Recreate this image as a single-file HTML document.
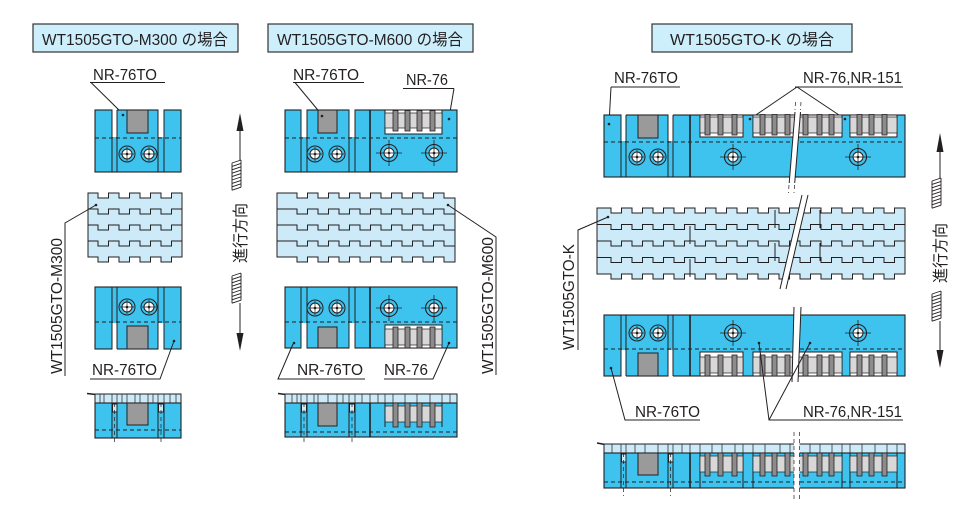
<!DOCTYPE html>
<html><head><meta charset="utf-8">
<style>
html,body{margin:0;padding:0;background:#fff;}
svg{display:block;}
</style></head>
<body>
<svg width="980" height="521" viewBox="0 0 980 521" xmlns="http://www.w3.org/2000/svg">
<style>
.b{fill:#3ec3ef;stroke:#231f20;stroke-width:1.1}
.lb{fill:#cdeaf8;stroke:#231f20;stroke-width:1}
.g{fill:#9a9a9a;stroke:#231f20;stroke-width:1}
.lg{fill:#d8d8d8;stroke:#231f20;stroke-width:0.7}
.w{fill:#fff;stroke:none}
.ln{fill:none;stroke:#231f20;stroke-width:1}
.tk{fill:none;stroke:#231f20;stroke-width:1.6}
.th{fill:none;stroke:#231f20;stroke-width:0.7}
.ds{fill:none;stroke:#231f20;stroke-width:1;stroke-dasharray:4 3}
.dt{fill:none;stroke:#231f20;stroke-width:0.7;stroke-dasharray:4 3}
.bar{fill:#8c8c8c;stroke:#231f20;stroke-width:0.8}
.bt{fill:#cdeaf8;stroke:#231f20;stroke-width:1}
text{font-family:"Liberation Sans","Noto Sans CJK JP",sans-serif;fill:#231f20;font-size:16px}
</style>
<defs>
<g id="sc"><circle r="8" fill="#3ec3ef" stroke="#231f20" stroke-width="1"/><circle r="5" fill="#fff" stroke="#231f20" stroke-width="1"/><path d="M-7,0H7M0,-7V7" stroke="#231f20" stroke-width="0.7"/><circle r="1.3" fill="#231f20"/></g>
<g id="bc"><circle r="8.5" fill="#3ec3ef" stroke="#231f20" stroke-width="1.1"/><circle r="5" fill="#fff" stroke="#231f20" stroke-width="1"/><path d="M-13,0H13M0,-13V13" stroke="#231f20" stroke-width="0.8"/><circle r="1.3" fill="#231f20"/></g>
<g id="hatch"><path d="M0,3V30.2M9,0V27.2M0,3L9,0M0,6.4L9,3.4M0,9.8L9,6.8M0,13.2L9,10.2M0,16.6L9,13.6M0,20L9,17M0,23.4L9,20.4M0,26.8L9,23.8M0,30.2L9,27.2" fill="none" stroke="#231f20" stroke-width="0.9"/></g>
</defs>

<!-- ================= TITLES ================= -->
<rect x="33" y="24" width="205" height="28" fill="#cdeefb" stroke="#333" stroke-width="1.2"/>
<text x="42" y="45" textLength="186" lengthAdjust="spacingAndGlyphs">WT1505GTO-M300 の場合</text>
<rect x="268" y="24" width="205" height="28" fill="#cdeefb" stroke="#333" stroke-width="1.2"/>
<text x="277" y="45" textLength="186" lengthAdjust="spacingAndGlyphs">WT1505GTO-M600 の場合</text>
<rect x="652" y="24" width="200" height="28" fill="#cdeefb" stroke="#333" stroke-width="1.2"/>
<text x="670" y="45" textLength="164" lengthAdjust="spacingAndGlyphs">WT1505GTO-K の場合</text>

<!-- ================= LEFT PANEL ================= -->
<text x="93" y="80" textLength="64" lengthAdjust="spacingAndGlyphs">NR-76TO</text>
<path class="ln" d="M90,82.5H165M91,82.5L123,114"/>
<rect class="b" x="95" y="110" width="86" height="62"/>
<rect class="w" x="112.5" y="109" width="4.5" height="28"/>
<rect class="w" x="158.5" y="109" width="5" height="28"/>
<path class="ln" d="M112,110V172M117,110V172M158,110V172M164,110V172"/>
<line class="ds" x1="95" y1="138" x2="181" y2="138"/>
<rect class="g" x="127" y="110" width="21" height="23"/>
<use href="#sc" x="127" y="154"/><use href="#sc" x="149" y="154"/>
<circle cx="123" cy="115" r="1.3" fill="#231f20"/>

<path class="bt" d="M88,193 h10 v5h10.5v-5h10.5 v5h10.5v-5h10.5 v5h10.5v-5h10.5 v5h10.5v-5h10.5 V257 h-10.5 v5h-10.5v-5h-10.5 v5h-10.5v-5h-10.5 v5h-10.5v-5h-10.5 v5h-10.5v-5h-10 Z"/>
<path class="ln" d="M88,209 h10 v5h10.5v-5h10.5 v5h10.5v-5h10.5 v5h10.5v-5h10.5 v5h10.5v-5h10.5 M88,225 h10 v5h10.5v-5h10.5 v5h10.5v-5h10.5 v5h10.5v-5h10.5 v5h10.5v-5h10.5 M88,241 h10 v5h10.5v-5h10.5 v5h10.5v-5h10.5 v5h10.5v-5h10.5 v5h10.5v-5h10.5"/>
<circle cx="96" cy="205" r="1.3" fill="#231f20"/>
<path class="ln" d="M96,205L65,223V376"/>
<text transform="translate(62,374) rotate(-90)" textLength="136" lengthAdjust="spacingAndGlyphs">WT1505GTO-M300</text>

<rect class="b" x="95" y="287" width="86" height="62"/>
<rect class="w" x="112.5" y="323" width="4.5" height="27"/>
<rect class="w" x="158.5" y="323" width="5" height="27"/>
<path class="ln" d="M112,287V349M117,287V349M158,287V349M164,287V349"/>
<line class="ds" x1="95" y1="322" x2="181" y2="322"/>
<rect class="g" x="127" y="326" width="21" height="23"/>
<use href="#sc" x="127" y="307"/><use href="#sc" x="149" y="307"/>
<circle cx="174" cy="341" r="1.3" fill="#231f20"/>
<path class="ln" d="M174,341L160,379H90"/>
<text x="92" y="375" textLength="65" lengthAdjust="spacingAndGlyphs">NR-76TO</text>

<path class="tk" d="M87,393.5L96,394.5"/>
<rect class="lb" x="95" y="394" width="86" height="9"/>
<path class="th" d="M100,394v9M104,394v9M112,394v9M117,394v9M122,394v9M127,394v9M135,394v9M140,394v9M148,394v9M153,394v9M158,394v9M164,394v9M170,394v9M176,394v9"/>
<rect class="b" x="95" y="403" width="86" height="35"/>
<path class="ln" d="M112,403V438M117,403V438M158,403V438M164,403V438"/>
<rect class="lb" x="112.5" y="404" width="4.5" height="8"/>
<rect class="lb" x="158.5" y="404" width="5" height="8"/>
<rect class="g" x="127" y="403" width="21" height="22"/>
<line class="ds" x1="95" y1="430" x2="181" y2="430"/>
<path class="dt" d="M114.5,403V442M161,403V442"/>

<polygon points="240,113 236.5,131 243.5,131" fill="#231f20"/>
<path class="ln" d="M240,128V160M240,303V335"/>
<use href="#hatch" x="232" y="160"/>
<use href="#hatch" x="232" y="273"/>
<polygon points="240,351 236.5,333 243.5,333" fill="#231f20"/>
<text transform="translate(246,263) rotate(-90)" font-size="15" textLength="60" lengthAdjust="spacingAndGlyphs">進行方向</text>

<!-- ================= MIDDLE PANEL ================= -->
<text x="293" y="80" textLength="66" lengthAdjust="spacingAndGlyphs">NR-76TO</text>
<path class="ln" d="M293,82.5H364M295,82.5L322,115"/>
<text x="406" y="85" textLength="42" lengthAdjust="spacingAndGlyphs">NR-76</text>
<path class="ln" d="M403,88.5H454M454,88.5L449,118"/>

<rect class="b" x="285" y="110" width="172" height="62"/>
<rect class="w" x="301.5" y="109" width="5" height="28"/>
<rect class="w" x="349.5" y="109" width="5" height="28"/>
<path class="ln" d="M301,110V172M307,110V172M349,110V172M355,110V172"/>
<path class="tk" d="M370,110V172"/>
<line class="ds" x1="285" y1="138" x2="457" y2="138"/>
<rect class="g" x="318" y="110" width="19" height="23"/>
<use href="#sc" x="315" y="154"/><use href="#sc" x="337" y="154"/>
<rect x="385" y="110" width="57" height="24" fill="#fff" stroke="#231f20" stroke-width="1"/>
<rect class="lg" x="385" y="113" width="57" height="15"/>
<rect class="bar" x="393" y="110.5" width="5" height="20.5"/>
<rect class="bar" x="405" y="110.5" width="5" height="20.5"/>
<rect class="bar" x="417" y="110.5" width="5" height="20.5"/>
<rect class="bar" x="430" y="110.5" width="5" height="20.5"/>
<use href="#bc" x="389" y="153"/><use href="#bc" x="434" y="153"/>
<circle cx="322" cy="116" r="1.3" fill="#231f20"/>
<circle cx="449" cy="119" r="1.3" fill="#231f20"/>

<path class="bt" d="M277,193 h20 v5h10.5v-5h10.5 v5h10.5v-5h10.5 v5h10.5v-5h10.5 v5h10.5v-5h10.5 v5h10.5v-5h10.5 v5h10.5v-5h10.5 v5h10.5v-5h10.5 v5h11 V262 h-11 v-5h-10.5v5h-10.5 v-5h-10.5v5h-10.5 v-5h-10.5v5h-10.5 v-5h-10.5v5h-10.5 v-5h-10.5v5h-10.5 v-5h-10.5v5h-10.5 v-5h-10.5v5h-10.5 v-5h-20 Z"/>
<path class="ln" d="M277,209 h20 v5h10.5v-5h10.5 v5h10.5v-5h10.5 v5h10.5v-5h10.5 v5h10.5v-5h10.5 v5h10.5v-5h10.5 v5h10.5v-5h10.5 v5h10.5v-5h10.5 v5h11 M277,225 h20 v5h10.5v-5h10.5 v5h10.5v-5h10.5 v5h10.5v-5h10.5 v5h10.5v-5h10.5 v5h10.5v-5h10.5 v5h10.5v-5h10.5 v5h10.5v-5h10.5 v5h11 M277,241 h20 v5h10.5v-5h10.5 v5h10.5v-5h10.5 v5h10.5v-5h10.5 v5h10.5v-5h10.5 v5h10.5v-5h10.5 v5h10.5v-5h10.5 v5h10.5v-5h10.5 v5h11"/>
<circle cx="448" cy="205" r="1.3" fill="#231f20"/>
<path class="ln" d="M448,205L496,237V375"/>
<text transform="translate(493,374) rotate(-90)" textLength="137" lengthAdjust="spacingAndGlyphs">WT1505GTO-M600</text>

<rect class="b" x="285" y="287" width="172" height="61"/>
<rect class="w" x="301.5" y="323" width="5" height="26"/>
<rect class="w" x="349.5" y="323" width="5" height="26"/>
<path class="ln" d="M301,287V348M307,287V348M349,287V348M355,287V348"/>
<path class="tk" d="M370,287V348"/>
<line class="ds" x1="285" y1="322" x2="457" y2="322"/>
<rect class="g" x="318" y="327" width="19" height="21"/>
<use href="#sc" x="315" y="308"/><use href="#sc" x="337" y="308"/>
<rect x="385" y="325" width="57" height="23" fill="#fff" stroke="#231f20" stroke-width="1"/>
<rect class="lg" x="385" y="329" width="57" height="16"/>
<rect class="bar" x="393" y="327" width="5" height="21"/>
<rect class="bar" x="405" y="327" width="5" height="21"/>
<rect class="bar" x="417" y="327" width="5" height="21"/>
<rect class="bar" x="430" y="327" width="5" height="21"/>
<use href="#bc" x="389" y="308"/><use href="#bc" x="434" y="308"/>
<circle cx="294" cy="343" r="1.3" fill="#231f20"/>
<circle cx="449" cy="343" r="1.3" fill="#231f20"/>
<path class="ln" d="M293,344L278,379H365M449,343L433,379H384"/>
<text x="297" y="375" textLength="66" lengthAdjust="spacingAndGlyphs">NR-76TO</text>
<text x="384" y="375" textLength="44" lengthAdjust="spacingAndGlyphs">NR-76</text>

<path class="tk" d="M278,393.5L286,394.5"/>
<rect class="lb" x="285" y="394" width="172" height="9"/>
<path class="th" d="M292,394v9M297,394v9M301,394v9M307,394v9M314,394v9M318,394v9M328,394v9M337,394v9M343,394v9M349,394v9M355,394v9M362,394v9M370,394v9M378,394v9M385,394v9M393,394v9M405,394v9M417,394v9M430,394v9M442,394v9M450,394v9"/>
<rect class="b" x="285" y="403" width="172" height="34"/>
<path class="ln" d="M301,403V437M307,403V437M349,403V437M355,403V437"/>
<path class="tk" d="M370,403V437"/>
<rect class="lb" x="301.5" y="404" width="5" height="8"/>
<rect class="lb" x="349.5" y="404" width="5" height="8"/>
<rect class="g" x="318" y="403" width="19" height="23"/>
<rect class="lg" x="385" y="406" width="57" height="16"/>
<path class="ln" d="M385,403V427M442,403V427"/>
<rect class="bar" x="393" y="403" width="5" height="24"/>
<rect class="bar" x="405" y="403" width="5" height="24"/>
<rect class="bar" x="417" y="403" width="5" height="24"/>
<rect class="bar" x="430" y="403" width="5" height="24"/>
<line class="ds" x1="285" y1="432" x2="457" y2="432"/>
<path class="dt" d="M304,403V442M352,403V442"/>

<!-- ================= RIGHT PANEL ================= -->
<text x="614" y="83" textLength="64" lengthAdjust="spacingAndGlyphs">NR-76TO</text>
<path class="ln" d="M611,87H680M611,87L609,124"/>
<text x="803" y="83" textLength="99" lengthAdjust="spacingAndGlyphs">NR-76,NR-151</text>
<path class="ln" d="M795,87H903M797,87L750,119M797,87L845,119"/>

<rect class="b" x="604" y="115" width="301" height="62"/>
<rect class="w" x="621.5" y="114" width="4.5" height="27"/>
<rect class="w" x="668.5" y="114" width="4.5" height="27"/>
<path class="ln" d="M621,115V177M626,115V177M668,115V177M673,115V177"/>
<path class="tk" d="M690,115V177"/>
<line class="ds" x1="604" y1="142" x2="905" y2="142"/>
<rect class="g" x="638" y="115" width="20" height="23"/>
<use href="#sc" x="637" y="157"/><use href="#sc" x="658" y="157"/>
<rect x="700" y="115" width="43" height="22" fill="#fff" stroke="#231f20" stroke-width="1"/>
<rect x="753" y="115" width="89" height="22" fill="#fff" stroke="#231f20" stroke-width="1"/>
<rect x="850" y="115" width="47" height="22" fill="#fff" stroke="#231f20" stroke-width="1"/>
<rect class="lg" x="700" y="117" width="43" height="16"/>
<rect class="lg" x="753" y="117" width="89" height="16"/>
<rect class="lg" x="850" y="117" width="47" height="16"/>
<g>
<rect class="bar" x="705" y="114.5" width="5" height="20.5"/>
<rect class="bar" x="718" y="114.5" width="5" height="20.5"/>
<rect class="bar" x="732" y="114.5" width="5" height="20.5"/>
<rect class="bar" x="760" y="114.5" width="5" height="20.5"/>
<rect class="bar" x="772" y="114.5" width="5" height="20.5"/>
<rect class="bar" x="785" y="114.5" width="5" height="20.5"/>
<rect class="bar" x="803" y="114.5" width="5" height="20.5"/>
<rect class="bar" x="817" y="114.5" width="5" height="20.5"/>
<rect class="bar" x="829" y="114.5" width="5" height="20.5"/>
<rect class="bar" x="857" y="114.5" width="5" height="20.5"/>
<rect class="bar" x="869" y="114.5" width="5" height="20.5"/>
<rect class="bar" x="882" y="114.5" width="5" height="20.5"/>
</g>
<use href="#bc" x="733" y="157"/><use href="#bc" x="858" y="157"/>
<polygon points="795,110 800.5,110 794.5,185 789,185" fill="#fff"/>
<path class="ln" d="M795,112L789.2,183M800.5,112L794.7,183"/>
<path class="dt" d="M795.5,102L795,110M801,102L800.5,110M789,185L788.5,193M794.5,185L794,193"/>
<circle cx="609" cy="124" r="1.3" fill="#231f20"/>
<circle cx="750" cy="119" r="1.3" fill="#231f20"/>
<circle cx="845" cy="119" r="1.3" fill="#231f20"/>

<!-- right belt: 597 -> 905 ; h14 + 14 pairs of 21 -->
<path class="bt" d="M597,208 h14
 v5h10.5v-5h10.5 v5h10.5v-5h10.5 v5h10.5v-5h10.5 v5h10.5v-5h10.5 v5h10.5v-5h10.5 v5h10.5v-5h10.5 v5h10.5v-5h10.5
 v5h10.5v-5h10.5 v5h10.5v-5h10.5 v5h10.5v-5h10.5 v5h10.5v-5h10.5 v5h10.5v-5h10.5 v5h10.5v-5h10.5 v5h10.5v-5h10.5
 V274
 h-10.5v5h-10.5v-5 h-10.5v5h-10.5v-5 h-10.5v5h-10.5v-5 h-10.5v5h-10.5v-5 h-10.5v5h-10.5v-5 h-10.5v5h-10.5v-5 h-10.5v5h-10.5v-5
 h-10.5v5h-10.5v-5 h-10.5v5h-10.5v-5 h-10.5v5h-10.5v-5 h-10.5v5h-10.5v-5 h-10.5v5h-10.5v-5 h-10.5v5h-10.5v-5 h-10.5v5h-10.5v-5
 h-14 Z"/>
<path class="ln" d="M597,224.5 h14
 v5h10.5v-5h10.5 v5h10.5v-5h10.5 v5h10.5v-5h10.5 v5h10.5v-5h10.5 v5h10.5v-5h10.5 v5h10.5v-5h10.5 v5h10.5v-5h10.5
 v5h10.5v-5h10.5 v5h10.5v-5h10.5 v5h10.5v-5h10.5 v5h10.5v-5h10.5 v5h10.5v-5h10.5 v5h10.5v-5h10.5 v5h10.5v-5h10.5
 M597,241 h14
 v5h10.5v-5h10.5 v5h10.5v-5h10.5 v5h10.5v-5h10.5 v5h10.5v-5h10.5 v5h10.5v-5h10.5 v5h10.5v-5h10.5 v5h10.5v-5h10.5
 v5h10.5v-5h10.5 v5h10.5v-5h10.5 v5h10.5v-5h10.5 v5h10.5v-5h10.5 v5h10.5v-5h10.5 v5h10.5v-5h10.5 v5h10.5v-5h10.5
 M597,257.5 h14
 v5h10.5v-5h10.5 v5h10.5v-5h10.5 v5h10.5v-5h10.5 v5h10.5v-5h10.5 v5h10.5v-5h10.5 v5h10.5v-5h10.5 v5h10.5v-5h10.5
 v5h10.5v-5h10.5 v5h10.5v-5h10.5 v5h10.5v-5h10.5 v5h10.5v-5h10.5 v5h10.5v-5h10.5 v5h10.5v-5h10.5 v5h10.5v-5h10.5"/>
<path class="ln" d="M775,210V228M820,210V228M690,226V244M775,243V261M820,243V261M690,259V277"/>
<polygon points="802,195 808,195 786,289 780,289" fill="#fff"/>
<path class="ln" d="M802,195L780,289M808,195L786,289"/>
<circle cx="608" cy="217" r="1.3" fill="#231f20"/>
<path class="ln" d="M608,217L578,230V350"/>
<text transform="translate(574,350) rotate(-90)" textLength="106" lengthAdjust="spacingAndGlyphs">WT1505GTO-K</text>

<rect class="b" x="604" y="315" width="301" height="61"/>
<rect class="w" x="621.5" y="350" width="4.5" height="27"/>
<rect class="w" x="668.5" y="350" width="4.5" height="27"/>
<path class="ln" d="M621,315V376M626,315V376M668,315V376M673,315V376"/>
<path class="tk" d="M690,315V376"/>
<line class="ds" x1="604" y1="349" x2="905" y2="349"/>
<rect class="g" x="638" y="353" width="20" height="23"/>
<use href="#sc" x="637" y="333"/><use href="#sc" x="658" y="333"/>
<rect x="700" y="352" width="43" height="24" fill="#fff" stroke="#231f20" stroke-width="1"/>
<rect x="753" y="352" width="89" height="24" fill="#fff" stroke="#231f20" stroke-width="1"/>
<rect x="850" y="352" width="47" height="24" fill="#fff" stroke="#231f20" stroke-width="1"/>
<rect class="lg" x="700" y="357" width="43" height="16"/>
<rect class="lg" x="753" y="357" width="89" height="16"/>
<rect class="lg" x="850" y="357" width="47" height="16"/>
<g>
<rect class="bar" x="705" y="355" width="5" height="21"/>
<rect class="bar" x="718" y="355" width="5" height="21"/>
<rect class="bar" x="732" y="355" width="5" height="21"/>
<rect class="bar" x="760" y="355" width="5" height="21"/>
<rect class="bar" x="772" y="355" width="5" height="21"/>
<rect class="bar" x="785" y="355" width="5" height="21"/>
<rect class="bar" x="803" y="355" width="5" height="21"/>
<rect class="bar" x="817" y="355" width="5" height="21"/>
<rect class="bar" x="829" y="355" width="5" height="21"/>
<rect class="bar" x="857" y="355" width="5" height="21"/>
<rect class="bar" x="869" y="355" width="5" height="21"/>
<rect class="bar" x="882" y="355" width="5" height="21"/>
</g>
<use href="#bc" x="733" y="333"/><use href="#bc" x="858" y="333"/>
<polygon points="794,307 801,307 798,382 792,382" fill="#fff"/>
<path class="ln" d="M794,307L792,382M801,307L798,382"/>
<circle cx="611" cy="368" r="1.3" fill="#231f20"/>
<circle cx="759" cy="343" r="1.3" fill="#231f20"/>
<circle cx="810" cy="343" r="1.3" fill="#231f20"/>
<path class="ln" d="M611,368L625,420H700M759,343L769,420H903M810,343L769,420"/>
<text x="635" y="417" textLength="65" lengthAdjust="spacingAndGlyphs">NR-76TO</text>
<text x="803" y="417" textLength="99" lengthAdjust="spacingAndGlyphs">NR-76,NR-151</text>

<path class="tk" d="M597,443L605,444.5"/>
<rect class="lb" x="604" y="444" width="301" height="9"/>
<path class="th" d="M612,444v9M621,444v9M626,444v9M635,444v9M645,444v9M658,444v9M668,444v9M673,444v9M682,444v9M690,444v9M700,444v9M712,444v9M722,444v9M735,444v9M743,444v9M753,444v9M765,444v9M780,444v9M790,444v9M810,444v9M820,444v9M832,444v9M842,444v9M850,444v9M862,444v9M875,444v9M887,444v9M897,444v9"/>
<rect class="b" x="604" y="453" width="301" height="35"/>
<path class="ln" d="M621,453V488M626,453V488M668,453V488M673,453V488M700,453V488M743,453V488M753,453V488M842,453V488M850,453V488M897,453V488"/>
<path class="tk" d="M690,453V488"/>
<rect class="lb" x="621.5" y="454" width="4.5" height="8"/>
<rect class="lb" x="668.5" y="454" width="4.5" height="8"/>
<rect class="g" x="638" y="453" width="20" height="22"/>
<rect class="lg" x="700" y="456" width="43" height="16"/>
<rect class="lg" x="753" y="456" width="89" height="16"/>
<rect class="lg" x="850" y="456" width="47" height="16"/>
<g>
<rect class="bar" x="705" y="453" width="5" height="23"/>
<rect class="bar" x="718" y="453" width="5" height="23"/>
<rect class="bar" x="732" y="453" width="5" height="23"/>
<rect class="bar" x="760" y="453" width="5" height="23"/>
<rect class="bar" x="772" y="453" width="5" height="23"/>
<rect class="bar" x="785" y="453" width="5" height="23"/>
<rect class="bar" x="803" y="453" width="5" height="23"/>
<rect class="bar" x="817" y="453" width="5" height="23"/>
<rect class="bar" x="829" y="453" width="5" height="23"/>
<rect class="bar" x="857" y="453" width="5" height="23"/>
<rect class="bar" x="869" y="453" width="5" height="23"/>
<rect class="bar" x="882" y="453" width="5" height="23"/>
</g>
<line class="ds" x1="604" y1="482" x2="905" y2="482"/>
<path class="dt" d="M623.5,453V496M670.5,453V496"/>
<rect class="w" x="794" y="440" width="5.5" height="52"/>
<path class="dt" d="M794,432V500M799.5,432V500"/>

<polygon points="940,133 936.5,152 943.5,152" fill="#231f20"/>
<path class="ln" d="M940,150V178M940,321V351"/>
<use href="#hatch" x="932" y="178"/>
<use href="#hatch" x="932" y="291"/>
<polygon points="940,368 936.5,350 943.5,350" fill="#231f20"/>
<text transform="translate(946,283) rotate(-90)" font-size="15" textLength="60" lengthAdjust="spacingAndGlyphs">進行方向</text>
</svg>
</body></html>
